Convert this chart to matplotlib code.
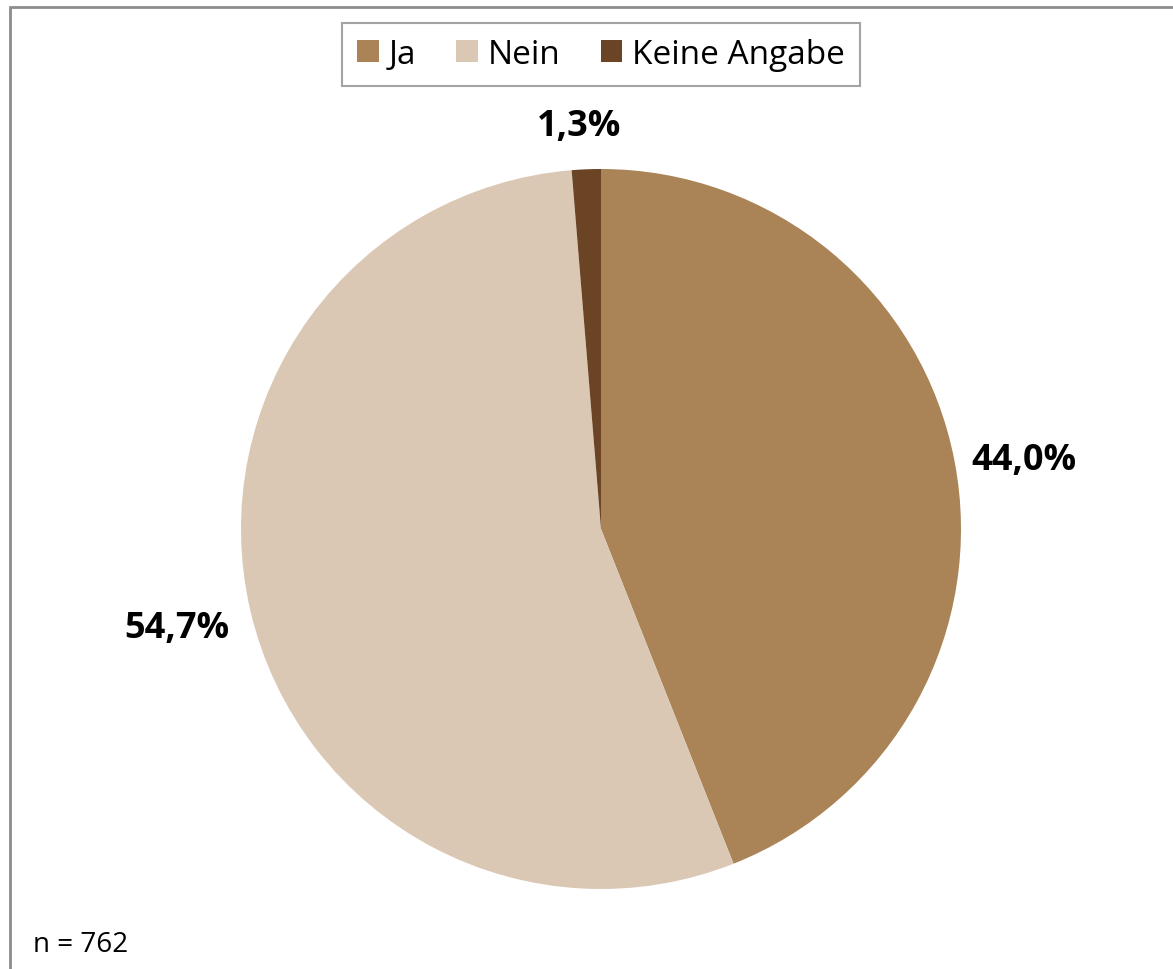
import matplotlib
matplotlib.use("Agg")
import matplotlib.pyplot as plt
from matplotlib.patches import Rectangle, Patch
import numpy as np

categories = ["Ja", "Nein", "Keine Angabe"]
values = [44.0, 54.7, 1.3]
labels = ["44,0%", "54,7%", "1,3%"]
colors = ["#AA8457", "#DBC8B4", "#6A4424"]
n_text = "n = 762"

plt.rcParams['font.family'] = ['Open Sans', 'DejaVu Sans']

W, H = 1173, 970
fig = plt.figure(figsize=(W / 100, H / 100), dpi=100)

# outer border (cropped at right/bottom)
fig.patches.append(Rectangle((10 / W, -0.05), 1.2, 1 - 8 / H + 0.05,
                             transform=fig.transFigure, fill=False,
                             edgecolor="#8C8C8C", linewidth=2))

cx, cy, r = 601, 530, 360
ax = fig.add_axes([(cx - r) / W, (H - cy - r) / H, 2 * r / W, 2 * r / H])
wedges, _ = ax.pie(values, colors=colors, startangle=90, counterclock=False,
                   wedgeprops=dict(linewidth=0))
ax.set_xlim(-1, 1)
ax.set_ylim(-1, 1)
ax.set_aspect('equal')
ax.axis('off')

dists = [1.19, 1.21, 1.12]
ang_off = [-1.5, 0.0, 0.8]
for w, lab, d, o in zip(wedges, labels, dists, ang_off):
    ang = np.deg2rad((w.theta1 + w.theta2) / 2 + o)
    ax.text(d * np.cos(ang), d * np.sin(ang), lab, ha='center', va='center',
            fontsize=26, fontweight='bold', color='black', clip_on=False)

handles = [Patch(facecolor=c, edgecolor='none') for c in colors]
leg = fig.legend(handles, categories, loc='center', bbox_to_anchor=(601 / W, 1 - 55 / H),
                 ncol=3, fontsize=24, frameon=True, fancybox=False,
                 handlelength=0.65, handleheight=0.65, handletextpad=0.3,
                 columnspacing=1.2, borderpad=0.45)
leg.get_frame().set_edgecolor("#8C8C8C")
leg.get_frame().set_linewidth(1.5)

fig.text(33 / W, 1 - 945 / H, n_text, ha='left', va='center', fontsize=20)

fig.savefig("out.png", dpi=100, facecolor='white')
